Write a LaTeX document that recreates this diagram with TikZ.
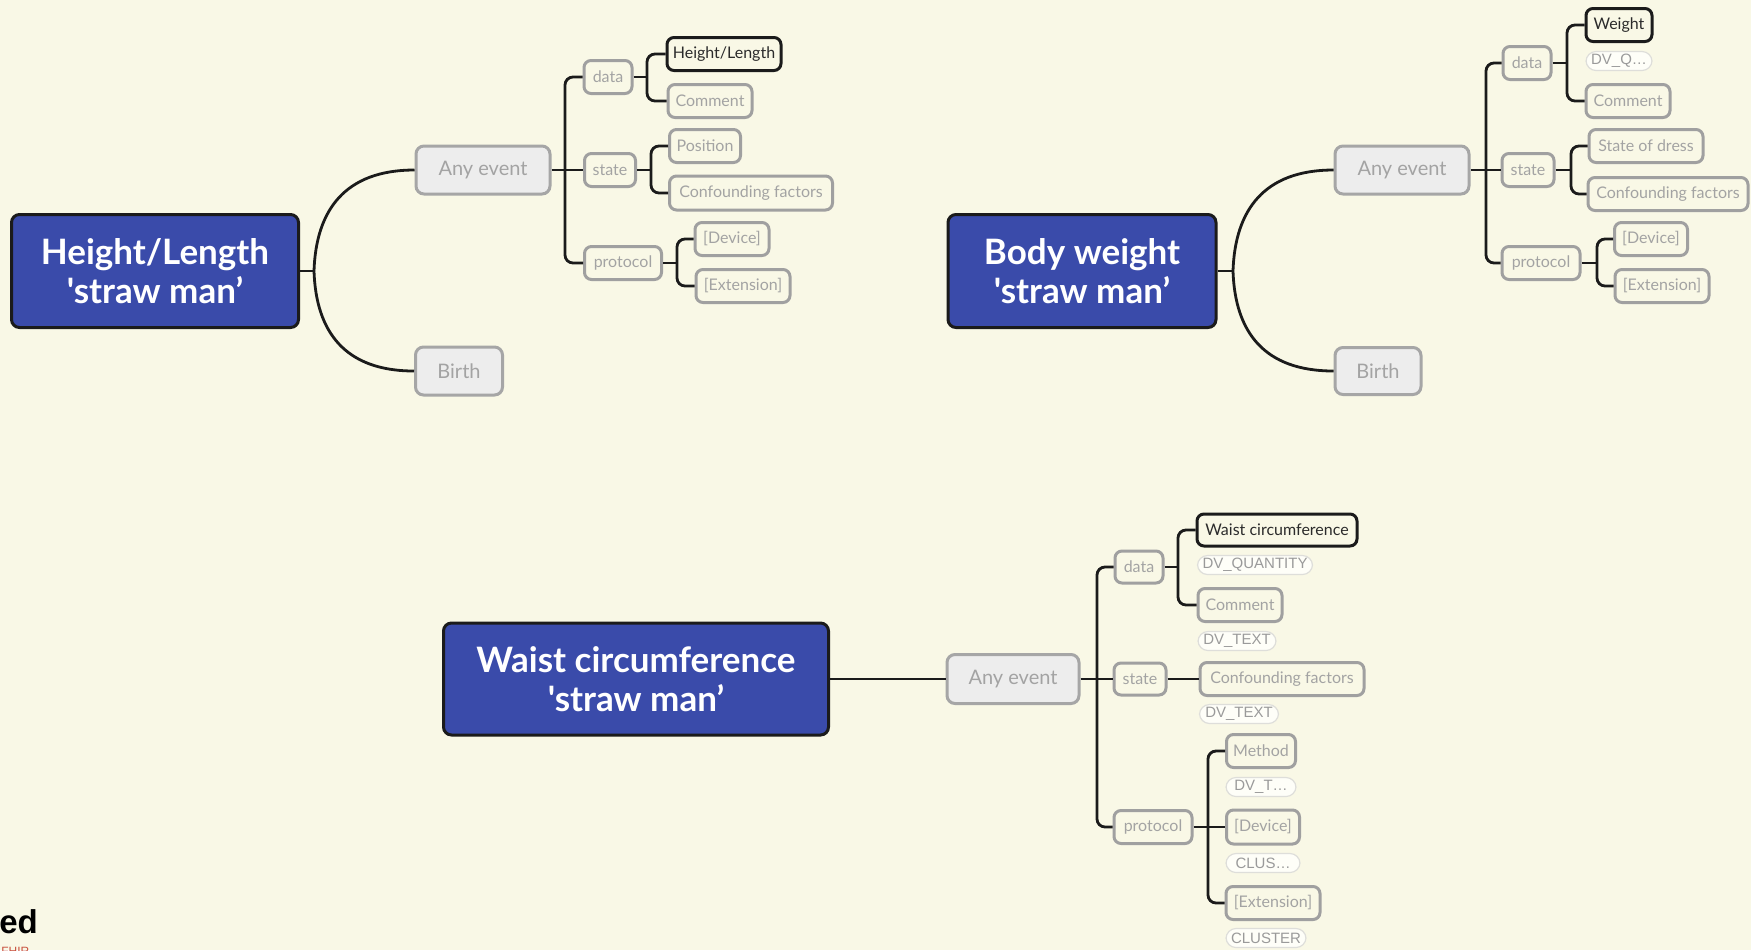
\documentclass[tikz,border=0pt]{standalone}
\usepackage{fontspec}
\setmainfont{Lato}
\newfontfamily\rootfont{Lato}
\newfontfamily\pillfont{Liberation Sans}
\usetikzlibrary{calc}
\definecolor{paper}{HTML}{F9F8E6}
\definecolor{rootblue}{HTML}{3A4BAA}
\definecolor{inkline}{HTML}{1B1B1B}
\definecolor{evfill}{HTML}{EDEDED}
\definecolor{evline}{HTML}{A6A6A6}
\definecolor{leafline}{HTML}{A0A0A0}
\definecolor{leaftext}{HTML}{A3A3A3}
\definecolor{keytext}{HTML}{2B2B2B}
\definecolor{pillfill}{HTML}{FEFEF8}
\definecolor{pillline}{HTML}{DEDEDA}
\definecolor{pilltext}{HTML}{9A9A9A}
\definecolor{marksub}{HTML}{C8503C}
\begin{document}
\begin{tikzpicture}[x=0.5pt, y=-0.5pt,
  sz/.style 2 args={minimum width={(#1-3)*0.5pt}, minimum height={(#2-3)*0.5pt}},
  rootbox/.style={draw=inkline, fill=rootblue, line width=1.5pt, rounded corners=4pt,
    text=white, font=\rootfont\bfseries\fontsize{17.5}{19.5}\selectfont, align=center, inner sep=0pt},
  eventbox/.style={draw=evline, fill=evfill, line width=1.5pt, rounded corners=4pt,
    text=leaftext, font=\fontsize{10}{12}\selectfont, inner sep=0pt},
  leafbox/.style={draw=leafline, fill=paper, line width=1.5pt, rounded corners=3.5pt,
    text=leaftext, font=\fontsize{8}{10}\selectfont, inner sep=0pt},
  keybox/.style={leafbox, draw=inkline, text=keytext},
  pill/.style={draw=pillline, fill=pillfill, line width=0.6pt, rounded corners=5pt,
    text=pilltext, font=\pillfont\fontsize{7.5}{9}\selectfont, inner sep=0pt},
  link/.style={draw=inkline, line width=1.4pt},
  elbow/.style={link, rounded corners=4pt}]

\useasboundingbox (0,0) rectangle (1751,950);
\fill[paper] (0,0) rectangle (1751,950);

% ---------- Height/Length ----------
\node[rootbox, sz={290}{116}] (r1) at (155,271) {Height/Length\\'straw man’};
\node[eventbox, sz={137}{51}] (ae1) at (483,170) {Any event};
\node[eventbox, sz={90}{51}] (b1) at (459,371) {Birth};
\node[leafbox, sz={51}{36}] (d1) at (608,77) {data};
\node[leafbox, sz={54}{36}] (s1) at (610,170) {state};
\node[leafbox, sz={80}{36}] (p1) at (623,263) {protocol};
\node[keybox, sz={117}{36}] (k1) at (724,54) {Height/Length};
\node[leafbox, sz={87}{36}] (c1) at (710,101) {Comment};
\node[leafbox, sz={74}{36}] (pos1) at (705,146) {Position};
\node[leafbox, sz={166}{37}] (cf1) at (751,193) {Confounding factors};
\node[leafbox, sz={77}{36}] (dev1) at (732,239) {[Device]};
\node[leafbox, sz={97}{36}] (ext1) at (743,286) {[Extension]};

\coordinate (j1) at (314,271);
\coordinate (t1) at (565,170);
\coordinate (jd1) at (647,77);
\coordinate (js1) at (651,170);
\coordinate (jp1) at (677,263);
\draw[link] (r1.east) -- (j1);
\draw[link] (j1) .. controls (316,210) and (345,170) .. (ae1.west);
\draw[link] (j1) .. controls (316,332) and (345,371) .. (b1.west);
\draw[link] (ae1.east) -- (s1.west);
\draw[elbow] (d1.west) -| (t1) |- (p1.west);
\draw[link] (d1.east) -- (jd1);
\draw[elbow] (k1.west) -| (jd1) |- (c1.west);
\draw[link] (s1.east) -- (js1);
\draw[elbow] (pos1.west) -| (js1) |- (cf1.west);
\draw[link] (p1.east) -- (jp1);
\draw[elbow] (dev1.west) -| (jp1) |- (ext1.west);

% ---------- Body weight ----------
\node[rootbox, sz={271}{116}] (r2) at (1082,271) {Body weight\\'straw man’};
\node[eventbox, sz={137}{51}] (ae2) at (1402,170) {Any event};
\node[eventbox, sz={89}{50}] (b2) at (1378,371) {Birth};
\node[leafbox, sz={51}{36}] (d2) at (1527,63) {data};
\node[leafbox, sz={55}{36}] (s2) at (1528,170) {state};
\node[leafbox, sz={81}{36}] (p2) at (1541,263) {protocol};
\node[keybox, sz={69}{36}] (k2) at (1619,25) {Weight};
\node[pill, sz={69}{22}] (q2) at (1619,61) {DV\_Q…};
\node[leafbox, sz={87}{36}] (c2) at (1628,101) {Comment};
\node[leafbox, sz={117}{36}] (sd2) at (1646,146) {State of dress};
\node[leafbox, sz={163}{36}] (cf2) at (1668,194) {Confounding factors};
\node[leafbox, sz={76}{36}] (dev2) at (1651,239) {[Device]};
\node[leafbox, sz={97}{36}] (ext2) at (1662,286) {[Extension]};

\coordinate (j2) at (1233,271);
\coordinate (t2) at (1486,170);
\coordinate (jd2) at (1567,63);
\coordinate (js2) at (1571,170);
\coordinate (jp2) at (1597,263);
\draw[link] (r2.east) -- (j2);
\draw[link] (j2) .. controls (1235,210) and (1264,170) .. (ae2.west);
\draw[link] (j2) .. controls (1235,332) and (1264,371) .. (b2.west);
\draw[link] (ae2.east) -- (s2.west);
\draw[elbow] (d2.west) -| (t2) |- (p2.west);
\draw[link] (d2.east) -- (jd2);
\draw[elbow] (k2.west) -| (jd2) |- (c2.west);
\draw[link] (s2.east) -- (js2);
\draw[elbow] (sd2.west) -| (js2) |- (cf2.west);
\draw[link] (p2.east) -- (jp2);
\draw[elbow] (dev2.west) -| (jp2) |- (ext2.west);

% ---------- Waist circumference ----------
\node[rootbox, sz={388}{115}] (r3) at (636,679) {Waist circumference\\'straw man’};
\node[eventbox, sz={135}{52}] (ae3) at (1013,679) {Any event};
\node[leafbox, sz={51}{35}] (d3) at (1139,567) {data};
\node[leafbox, sz={55}{35}] (s3) at (1140,679) {state};
\node[leafbox, sz={81}{36}] (p3) at (1153,827) {protocol};
\node[keybox, sz={163}{35}] (k3) at (1277,530) {Waist circumference};
\node[pill, sz={118}{22}] (q3) at (1255,565) {DV\_QUANTITY};
\node[leafbox, sz={87}{36}] (c3) at (1240,605) {Comment};
\node[pill, sz={81}{22}] (tx3) at (1237,641) {DV\_TEXT};
\node[leafbox, sz={167}{36}] (cf3) at (1282,679) {Confounding factors};
\node[pill, sz={82}{22}] (tx3b) at (1239,714) {DV\_TEXT};
\node[leafbox, sz={72}{36}] (m3) at (1261,751) {Method};
\node[pill, sz={73}{22}] (tt3) at (1261,787) {DV\_T…};
\node[leafbox, sz={76}{37}] (dev3) at (1263,827) {[Device]};
\node[pill, sz={77}{22}] (cl3) at (1263,863) {CLUS…};
\node[leafbox, sz={97}{36}] (ext3) at (1273,903) {[Extension]};
\node[pill, sz={83}{22}] (clu3) at (1266,938) {CLUSTER};

\coordinate (t3) at (1097,679);
\coordinate (jd3) at (1178,567);
\coordinate (jp3) at (1208,827);
\draw[link] (r3.east) -- (ae3.west);
\draw[link] (ae3.east) -- (s3.west);
\draw[elbow] (d3.west) -| (t3) |- (p3.west);
\draw[link] (d3.east) -- (jd3);
\draw[elbow] (k3.west) -| (jd3) |- (c3.west);
\draw[link] (s3.east) -- (cf3.west);
\draw[link] (p3.east) -- (dev3.west);
\draw[elbow] (m3.west) -| (jp3) |- (ext3.west);

% ---------- corner fragment ----------
\node[anchor=base west, inner sep=0pt, font=\pillfont\bfseries\fontsize{16.5}{18}\selectfont, text=black] (mark) at (-1,933) {ed};
\node[anchor=base west, inner sep=0pt, font=\pillfont\fontsize{6}{7}\selectfont, text=marksub] (marksub) at (1,955) {FHIR};
\end{tikzpicture}
\end{document}
